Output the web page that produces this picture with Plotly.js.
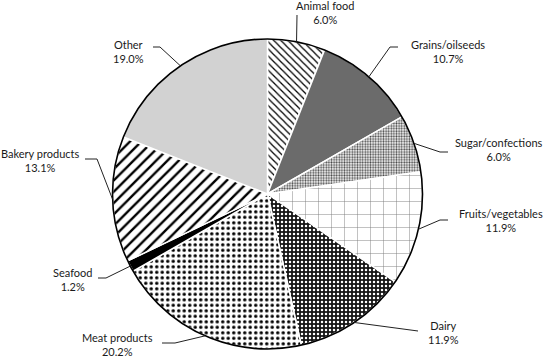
<!DOCTYPE html>
<html>
<head>
<meta charset="utf-8">
<script src="https://cdn.plot.ly/plotly-3.0.1.min.js"></script>
<style>html,body{margin:0;padding:0;background:#fff;}#chart{width:543px;height:358px;}</style>
</head>
<body>
<div id="chart"></div>
<script>
// ---- data ----
var categories = ["Animal food", "Grains/oilseeds", "Sugar/confections", "Fruits/vegetables", "Dairy", "Meat products", "Seafood", "Bakery products", "Other"];
var shares = [6.0, 10.7, 6.0, 11.9, 11.9, 20.2, 1.2, 13.1, 19.0];

// ---- styles ----
var fillColors   = ["#ffffff", "#6b6b6b", "#ffffff", "#ffffff", "#000000", "#ffffff", "#000000", "#ffffff", "#d2d2d2"];
var patShapes    = ["\\", "", ".", "+", ".", ".", "", "/", ""];
var patFg        = ["#000000", "#000000", "#4a4a4a", "#7a7a7a", "#ffffff", "#000000", "#000000", "#000000", "#000000"];
var patBg        = ["#ffffff", "#6b6b6b", "#ffffff", "#ffffff", "#151515", "#ffffff", "#000000", "#ffffff", "#d2d2d2"];
var patSize      = [5, 8, 2.6, 13, 4, 5.5, 8, 8, 8];
var patSolidity  = [0.25, 0.3, 0.45, 0.07, 0.3, 0.3, 0.3, 0.3, 0.3];

// ---- layout geometry (pixels) ----
var W = 543, H = 358;
var CX = 267.5, CY = 194, R = 155;
// label centres and leader-line bend/end points (pixels)
var labelPos = [[325, 13], [448, 52], [499, 150], [501, 220], [443, 332], [117, 344], [72, 279], [40, 160], [128, 52]];
var leaderBend = [null, [390, 47], [440, 152], [440, 220], null, [175, 343], [106, 278], [97, 159], [160, 47]];
var leaderEnd  = [[297, 15], [398, 47], [448, 152], [448, 220], [418, 331], [162, 343], [98, 278], [85, 159], [153, 47]];

var domX = [(CX - R) / W, (CX + R) / W];
var domY = [1 - (CY + R) / H, 1 - (CY - R) / H];

var pie = {
  type: "pie",
  labels: categories,
  values: shares,
  sort: false,
  direction: "clockwise",
  rotation: 0,
  textinfo: "none",
  hoverinfo: "label+percent",
  domain: {x: domX, y: domY},
  marker: {
    colors: fillColors,
    line: {color: "#ffffff", width: 1.5},
    pattern: {
      shape: patShapes,
      fgcolor: patFg,
      bgcolor: patBg,
      size: patSize,
      solidity: patSolidity,
      fillmode: "replace"
    }
  }
};

var outline = {
  type: "pie",
  values: [1],
  labels: ["outline"],
  sort: false,
  textinfo: "none",
  hoverinfo: "skip",
  domain: {x: domX, y: domY},
  marker: {colors: ["rgba(0,0,0,0)"], line: {color: "#000000", width: 1.6}},
  showlegend: false
};

var total = shares.reduce(function (a, b) { return a + b; }, 0);
var annotations = [], shapes = [];
var cum = 0;
function px(x) { return x / W; }
function py(y) { return 1 - y / H; }
for (var i = 0; i < categories.length; i++) {
  var mid = 2 * Math.PI * (cum + shares[i] / 2) / total;
  cum += shares[i];
  var ex = CX + R * Math.sin(mid), ey = CY - R * Math.cos(mid);
  var pct = (100 * shares[i] / total).toFixed(1) + "%";
  annotations.push({
    x: px(labelPos[i][0]), y: py(labelPos[i][1]), xref: "paper", yref: "paper",
    xanchor: "center", yanchor: "middle", showarrow: false,
    text: categories[i] + "<br>" + pct, align: "center",
    font: {family: "Lato, 'Open Sans', sans-serif", size: 11, color: "#1a1a1a"}
  });
  var path = "M " + px(ex) + "," + py(ey);
  if (leaderBend[i]) path += " L " + px(leaderBend[i][0]) + "," + py(leaderBend[i][1]);
  path += " L " + px(leaderEnd[i][0]) + "," + py(leaderEnd[i][1]);
  shapes.push({type: "path", xref: "paper", yref: "paper", path: path, line: {color: "#222222", width: 1}});
}

var layout = {
  width: W, height: H,
  margin: {l: 0, r: 0, t: 0, b: 0},
  paper_bgcolor: "#ffffff",
  showlegend: false,
  annotations: annotations,
  shapes: shapes
};

Plotly.newPlot("chart", [pie, outline], layout, {displayModeBar: false, staticPlot: true});
</script>
</body>
</html>
